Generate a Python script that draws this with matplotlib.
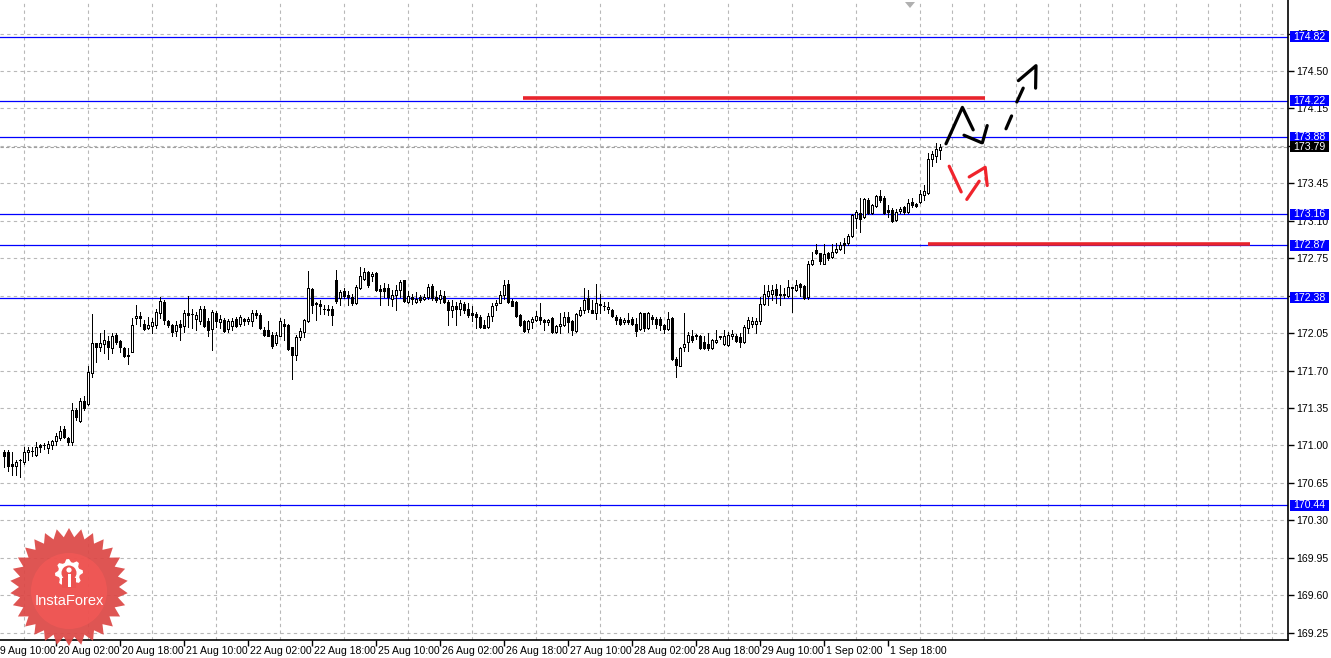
import matplotlib; matplotlib.use("Agg")
import matplotlib.pyplot as plt
import numpy as np
from matplotlib.patches import Polygon, Circle, Rectangle
from matplotlib.transforms import blended_transform_factory, Affine2D

plt.rcParams['font.family'] = ['Liberation Sans', 'DejaVu Sans']

# hourly candles (first candle = 13 bars before 20 Aug 02:00)
o = [170.94,170.94,170.83,170.81,170.86,170.85,170.94,170.95,170.91,171.00,
     171.00,170.98,171.00,171.04,171.07,171.15,171.07,171.03,171.33,171.23,
     171.42,171.39,171.68,171.96,171.92,171.95,171.98,171.91,172.03,171.98,
     171.91,171.84,171.87,172.19,172.21,172.14,172.10,172.12,172.13,172.24,
     172.34,172.16,172.13,172.07,172.14,172.12,172.24,172.23,172.18,172.16,
     172.28,172.16,172.09,172.24,172.15,172.17,172.09,172.12,172.18,172.14,
     172.18,172.16,172.16,172.24,172.22,172.08,172.08,172.03,171.96,172.02,
     172.14,172.13,171.92,171.85,172.01,172.06,172.16,172.46,172.32,172.32,
     172.28,172.28,172.28,172.55,172.38,172.44,172.41,172.39,172.33,172.47,
     172.56,172.62,172.58,172.61,172.46,172.47,172.47,172.37,172.41,172.45,
     172.55,172.34,172.39,172.34,172.39,172.37,172.39,172.49,172.39,172.37,
     172.40,172.34,172.27,172.30,172.28,172.32,172.28,172.24,172.23,172.20,
     172.13,172.11,172.21,172.31,172.33,172.41,172.51,172.35,172.34,172.22,
     172.16,172.09,172.15,172.17,172.20,172.17,172.15,172.19,172.06,172.12,
     172.13,172.20,172.16,172.07,172.22,172.27,172.38,172.27,172.24,172.31,
     172.30,172.28,172.27,172.20,172.18,172.15,172.17,172.18,172.14,172.09,
     172.24,172.10,172.20,172.18,172.18,172.13,172.09,172.19,171.81,171.74,
     171.92,171.97,172.02,172.02,172.02,171.97,171.95,171.91,171.97,172.02,
     171.95,171.94,172.02,172.02,172.01,171.97,172.10,172.14,172.14,172.16,
     172.32,172.40,172.42,172.46,172.41,172.42,172.40,172.47,172.45,172.51,
     172.49,172.39,172.70,172.83,172.80,172.70,172.80,172.76,172.81,172.84,
     172.89,172.89,172.96,173.13,173.17,173.14,173.29,173.17,173.24,173.33,
     173.31,173.20,173.20,173.11,173.19,173.23,173.18,173.28,173.26,173.28,
     173.34,173.36,173.68,173.71,173.76]
h = [170.96,170.96,170.94,170.86,170.87,170.99,170.99,170.99,171.03,171.01,
     171.02,171.04,171.05,171.12,171.18,171.18,171.08,171.40,171.35,171.44,
     171.46,171.74,172.23,171.96,172.05,172.08,172.02,172.05,172.05,171.99,
     171.92,171.91,172.19,172.31,172.25,172.17,172.20,172.19,172.28,172.39,
     172.36,172.17,172.14,172.16,172.17,172.27,172.40,172.28,172.25,172.30,
     172.30,172.19,172.27,172.26,172.22,172.19,172.18,172.19,172.20,172.22,
     172.19,172.20,172.27,172.27,172.24,172.11,172.16,172.06,172.06,172.19,
     172.18,172.14,171.92,172.03,172.10,172.18,172.63,172.47,172.34,172.36,
     172.31,172.31,172.30,172.64,172.45,172.47,172.44,172.42,172.50,172.67,
     172.66,172.63,172.62,172.62,172.50,172.52,172.51,172.45,172.50,172.55,
     172.55,172.44,172.42,172.43,172.41,172.42,172.51,172.51,172.44,172.45,
     172.44,172.36,172.36,172.34,172.36,172.34,172.33,172.30,172.25,172.22,
     172.17,172.24,172.33,172.36,172.44,172.55,172.55,172.37,172.35,172.23,
     172.17,172.17,172.20,172.26,172.33,172.18,172.18,172.20,172.13,172.24,
     172.25,172.25,172.17,172.24,172.29,172.47,172.45,172.36,172.51,172.42,
     172.34,172.34,172.28,172.22,172.20,172.19,172.24,172.20,172.19,172.25,
     172.24,172.25,172.22,172.20,172.20,172.14,172.25,172.20,171.83,171.92,
     172.24,172.06,172.08,172.04,172.03,172.02,172.05,172.00,172.08,172.02,
     172.08,172.06,172.08,172.04,172.05,172.13,172.20,172.20,172.19,172.39,
     172.50,172.50,172.50,172.51,172.50,172.47,172.55,172.48,172.55,172.52,
     172.50,172.72,172.81,172.88,172.80,172.88,172.81,172.88,172.89,172.90,
     172.94,172.98,173.16,173.20,173.31,173.31,173.31,173.26,173.34,173.39,
     173.33,173.25,173.22,173.21,173.23,173.24,173.30,173.31,173.27,173.39,
     173.43,173.73,173.75,173.83,173.82]
l = [170.80,170.76,170.72,170.72,170.71,170.83,170.86,170.90,170.90,170.94,
     170.97,170.93,170.97,171.00,171.05,171.07,171.00,171.00,171.24,171.22,
     171.33,171.38,171.64,171.78,171.88,171.86,171.81,171.86,171.95,171.87,
     171.83,171.76,171.87,172.14,172.12,172.08,172.09,172.05,172.10,172.19,
     172.14,172.11,172.02,172.02,171.99,172.06,172.11,172.10,172.08,172.14,
     172.11,172.02,171.89,172.11,172.10,172.06,172.06,172.08,172.11,172.12,
     172.13,172.14,172.12,172.19,172.09,172.02,172.02,171.91,171.94,172.02,
     171.99,171.89,171.62,171.80,171.99,172.01,172.15,172.24,172.17,172.23,
     172.23,172.22,172.13,172.33,172.31,172.38,172.31,172.31,172.32,172.46,
     172.55,172.48,172.54,172.44,172.31,172.39,172.31,172.30,172.27,172.39,
     172.34,172.33,172.32,172.33,172.34,172.36,172.37,172.36,172.34,172.33,
     172.33,172.13,172.20,172.13,172.22,172.24,172.20,172.16,172.10,172.10,
     172.10,172.10,172.16,172.27,172.33,172.37,172.33,172.30,172.20,172.12,
     172.06,172.06,172.10,172.16,172.14,172.08,172.13,172.05,172.05,172.05,
     172.12,172.06,172.03,172.06,172.21,172.24,172.25,172.24,172.18,172.24,
     172.27,172.24,172.20,172.14,172.13,172.14,172.14,172.13,172.02,172.08,
     172.07,172.09,172.14,172.10,172.08,172.05,172.08,171.80,171.64,171.74,
     171.88,171.88,171.97,172.00,171.90,171.90,171.89,171.90,171.96,172.00,
     171.94,171.93,172.00,171.97,171.92,171.96,172.05,172.11,172.05,172.14,
     172.31,172.31,172.36,172.33,172.31,172.38,172.39,172.25,172.44,172.40,
     172.37,172.37,172.69,172.79,172.70,172.70,172.73,172.75,172.80,172.83,
     172.80,172.87,172.95,173.03,173.00,173.13,173.16,173.16,173.23,173.28,
     173.16,173.14,173.09,173.10,173.17,173.16,173.17,173.23,173.23,173.27,
     173.29,173.35,173.61,173.65,173.68]
c = [170.90,170.81,170.81,170.85,170.86,170.94,170.96,170.95,170.99,170.99,
     171.00,171.01,171.04,171.09,171.14,171.08,171.03,171.33,171.27,171.42,
     171.35,171.69,171.96,171.92,171.96,171.99,171.92,172.02,171.97,171.92,
     171.84,171.85,172.13,172.21,172.19,172.09,172.13,172.15,172.25,172.35,
     172.17,172.13,172.06,172.13,172.11,172.24,172.22,172.23,172.22,172.28,
     172.12,172.08,172.25,172.16,172.18,172.07,172.16,172.16,172.12,172.20,
     172.16,172.18,172.24,172.22,172.10,172.03,172.02,171.93,172.03,172.16,
     172.12,171.90,171.85,172.01,172.07,172.17,172.47,172.31,172.33,172.30,
     172.28,172.27,172.22,172.35,172.43,172.40,172.39,172.33,172.48,172.58,
     172.62,172.50,172.60,172.45,172.44,172.44,172.39,172.41,172.45,172.53,
     172.35,172.40,172.37,172.37,172.36,172.39,172.48,172.38,172.36,172.41,
     172.34,172.27,172.30,172.28,172.33,172.27,172.22,172.22,172.20,172.11,
     172.10,172.21,172.30,172.33,172.41,172.50,172.34,172.30,172.21,172.13,
     172.07,172.16,172.18,172.21,172.17,172.15,172.17,172.06,172.12,172.14,
     172.20,172.15,172.08,172.23,172.27,172.36,172.28,172.24,172.33,172.32,
     172.30,172.29,172.21,172.17,172.14,172.17,172.15,172.14,172.07,172.24,
     172.10,172.24,172.18,172.14,172.13,172.09,172.18,171.81,171.75,171.91,
     171.95,172.03,171.99,172.03,171.91,171.91,171.91,171.99,171.99,172.01,
     172.02,172.03,172.04,171.98,171.97,172.11,172.17,172.16,172.16,172.32,
     172.42,172.44,172.45,172.41,172.42,172.41,172.48,172.48,172.50,172.48,
     172.38,172.70,172.73,172.80,172.72,172.79,172.75,172.81,172.84,172.87,
     172.87,172.96,173.15,173.18,173.12,173.30,173.17,173.25,173.33,173.29,
     173.17,173.18,173.10,173.18,173.21,173.18,173.27,173.25,173.24,173.35,
     173.38,173.68,173.72,173.77,173.79]
first_bar = -13

# date labels every 16 hourly bars (bar 0 = 20 Aug 02:00)
date_bars = [-16, 0, 16, 32, 48, 64, 80, 96, 112, 128, 144, 160, 176, 192, 208]
date_labels = ["19 Aug 10:00", "20 Aug 02:00", "20 Aug 18:00", "21 Aug 10:00",
               "22 Aug 02:00", "22 Aug 18:00", "25 Aug 10:00", "26 Aug 02:00",
               "26 Aug 18:00", "27 Aug 10:00", "28 Aug 02:00", "28 Aug 18:00",
               "29 Aug 10:00", "1 Sep 02:00", "1 Sep 18:00"]

blue_levels = [174.82, 174.22, 173.88, 173.16, 172.87, 172.38, 170.44]
bid = 173.79
# hand-drawn red zones: (from bar, to bar, price)
red_levels = [(116.75, 232.25, 174.25), (218.0, 298.5, 172.88)]
# hand-drawn scenario strokes (bar, price)
black_strokes = [
    [(222.5, 173.82), (226.6, 174.16), (229.3, 173.95)],
    [(227.0, 173.90), (231.4, 173.83)],
    [(231.6, 173.83), (232.8, 173.99)],
    [(237.5, 173.96), (238.9, 174.08)],
    [(240.2, 174.21), (241.8, 174.34)],
    [(240.6, 174.41), (245.0, 174.55), (244.9, 174.34)],
]
red_strokes = [
    [(223.3, 173.61), (226.3, 173.37)],
    [(227.7, 173.30), (230.8, 173.47)],
    [(228.3, 173.51), (232.3, 173.60), (232.8, 173.43)],
]

W, H = 1331, 658
fig = plt.figure(figsize=(W/100, H/100), dpi=100)
fig.patch.set_facecolor("white")
ax = fig.add_axes([0, 18/H, 1288/W, 640/H])
ax.set_xlim(-14, 308)
ax.set_ylim(169.1822, 175.1636)

o = np.array(o); h = np.array(h); l = np.array(l); c = np.array(c)
bars = np.arange(len(o)) + first_bar
up = c >= o
bot = np.minimum(o, c); ht = np.abs(c - o)
ax.vlines(bars, l, h, color="black", lw=0.72, zorder=3, antialiased=False)
ax.bar(bars, ht, bottom=bot, width=0.7, color=np.where(up, "white", "black"),
       edgecolor="black", linewidth=0.72, zorder=4, antialiased=False)

# levels
for p in blue_levels:
    ax.axhline(p, color="#0000ff", lw=0.9, zorder=2)
ax.axhline(bid, color="#a0a0a0", lw=0.8, ls=(0, (3, 2)), zorder=2)
for x0, x1, p in red_levels:
    ax.plot([x0, x1], [p, p], color="#e8242c", lw=2.6, solid_capstyle="butt", zorder=5)
for s in black_strokes:
    xs, ys = zip(*s)
    ax.plot(xs, ys, color="black", lw=2.3, solid_capstyle="round", zorder=6)
for s in red_strokes:
    xs, ys = zip(*s)
    ax.plot(xs, ys, color="#f0242c", lw=2.3, solid_capstyle="round", zorder=6)

# axes styling
yt = np.round(np.arange(169.25, 174.86, 0.35), 2)
ax.set_yticks(yt)
ax.set_yticklabels([f"{v:.2f}" for v in yt])
ax.yaxis.tick_right()
ax.set_xticks(np.arange(0, 209, 16))
ax.set_xticklabels([])
ax.set_xticks(np.arange(-8, 309, 8), minor=True)
ax.tick_params(axis="y", which="major", length=4, width=1, pad=2, labelsize=7.6, colors="black")
ax.tick_params(axis="x", which="major", length=4, width=1)
ax.tick_params(axis="x", which="minor", length=0)
ax.grid(which="major", axis="y", color="#b8b8b8", lw=0.8, ls=(0, (3, 3)))
ax.grid(which="minor", axis="x", color="#b8b8b8", lw=0.8, ls=(0, (3, 3)))
ax.set_axisbelow(True)
for sp in ("left", "top"):
    ax.spines[sp].set_visible(False)
for sp in ("right", "bottom"):
    ax.spines[sp].set_color("black"); ax.spines[sp].set_linewidth(1.2)

# date labels (left-aligned at their tick)
tr = blended_transform_factory(ax.transData, ax.transAxes)
for b, t in zip(date_bars, date_labels):
    ax.text(b + 0.5, -0.0175, t, transform=tr, ha="left", va="center",
            fontsize=7.6, color="black", clip_on=False, zorder=8)

# boxed price labels on the right scale (38 px wide, 11 px tall)
tr2 = blended_transform_factory(ax.transAxes, ax.transData)
bw, bh = 39/1288, 11/107
for p, fc in [(v, "#0000ff") for v in blue_levels] + [(bid, "black")]:
    ax.add_patch(Rectangle((1.0016, p - bh/2), bw, bh, transform=tr2, fc=fc, ec="none",
                           clip_on=False, zorder=8))
    ax.text(1.0016 + bw/2, p, f"{p:.2f}", transform=tr2, ha="center", va="center",
            fontsize=7.6, color="white", clip_on=False, zorder=9)

# logo + chart-shift marker, drawn in image pixel coords
px = Affine2D().scale(1, -1).translate(0, H)
cx, cy = 69, 587
ang = np.linspace(0, 2*np.pi, 61)[:-1] + np.pi/2
rad = np.where(np.arange(60) % 2 == 0, 59, 50)
star = Polygon(np.c_[cx + rad*np.cos(ang), cy - rad*np.sin(ang)], closed=True,
               fc="#dc4846", ec="none", alpha=0.93, transform=px, clip_on=False, zorder=7)
ax.add_patch(star)
ax.add_patch(Circle((cx, cy + 4), 38, fc="#ff5a58", ec="none", alpha=0.5,
                    transform=px, clip_on=False, zorder=7))
ga = np.linspace(0, 2*np.pi, 33)[:-1]
gr = np.where((np.arange(32) // 2) % 2 == 0, 14, 11)
ax.add_patch(Polygon(np.c_[cx + gr*np.cos(ga), 573 - gr*np.sin(ga)], closed=True,
                     fc="white", ec="none", transform=px, clip_on=False, zorder=7.5))
ax.add_patch(Circle((cx, 573), 7.5, fc="#ec5250", ec="none", transform=px, clip_on=False, zorder=7.6))
ax.add_patch(Rectangle((cx - 7, 578), 14, 10, fc="#ec5250", ec="none", transform=px, clip_on=False, zorder=7.6))
ax.add_patch(Circle((cx, 570), 2.6, fc="white", ec="none", transform=px, clip_on=False, zorder=7.7))
ax.add_patch(Rectangle((cx - 1.5, 574), 3, 13, fc="white", ec="none", transform=px, clip_on=False, zorder=7.7))
ax.text(cx, 601, "InstaForex", transform=px, ha="center", va="center", fontsize=10.5,
        color="white", clip_on=False, zorder=7.8)
ax.add_patch(Polygon([(905, 2), (915, 2), (910, 8)], closed=True, fc="#b0b0b0", ec="none",
                     transform=px, clip_on=False, zorder=8))

fig.savefig("out.png", dpi=100, facecolor="white")
